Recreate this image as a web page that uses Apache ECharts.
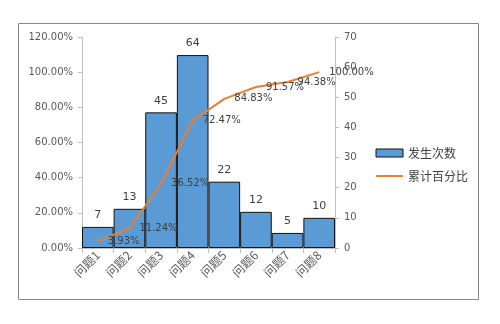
<!DOCTYPE html>
<html><head><meta charset="utf-8">
<script src="https://cdn.jsdelivr.net/npm/echarts@6/dist/echarts.min.js"></script>
<style>html,body{margin:0;padding:0;background:#fff}#c{width:500px;height:324px}</style>
</head><body><div id="c"></div>
<script>
const categories = ['问题1','问题2','问题3','问题4','问题5','问题6','问题7','问题8'];
const counts = [7, 13, 45, 64, 22, 12, 5, 10];
const cumPercent = [0.0393, 0.1124, 0.3652, 0.7247, 0.8483, 0.9157, 0.9438, 1.0];
const seriesNames = ['发生次数', '累计百分比'];

const chart = echarts.init(document.getElementById('c'), null, {renderer: 'canvas'});
const font = 'DejaVu Sans';
chart.setOption({
  animation: false,
  textStyle: {fontFamily: font},
  graphic: [{type: 'rect', shape: {x: 18.5, y: 23.5, width: 460, height: 276}, style: {fill: 'none', stroke: '#898989', lineWidth: 1}, z: -1}],
  grid: {left: 82, right: 165, top: 37, bottom: 76},
  legend: {
    left: 370, top: 142, orient: 'vertical', itemGap: 11, itemWidth: 27, itemHeight: 8,
    textStyle: {fontFamily: 'Noto Sans CJK SC', fontSize: 12, color: '#404040'},
    data: [{name: seriesNames[0], icon: 'rect', itemStyle: {borderColor: '#111', borderWidth: 1}},
           {name: seriesNames[1], itemStyle: {opacity: 0}}]
  },
  xAxis: {
    type: 'category', data: categories,
    axisLine: {lineStyle: {color: '#bfbfbf'}},
    axisTick: {show: true, length: 5, lineStyle: {color: '#bfbfbf'}},
    axisLabel: {rotate: 45, fontSize: 12, color: '#595959', fontFamily: 'Noto Sans CJK SC', margin: 5}
  },
  yAxis: [{
    type: 'value', min: 0, max: 1.2, interval: 0.2, position: 'left',
    splitLine: {show: false},
    axisLine: {show: true, lineStyle: {color: '#bfbfbf'}},
    axisTick: {show: true, length: 4, lineStyle: {color: '#bfbfbf'}},
    axisLabel: {fontSize: 10, color: '#595959', margin: 9, formatter: v => (v * 100).toFixed(2) + '%'}
  }, {
    type: 'value', min: 0, max: 70, interval: 10, position: 'right',
    splitLine: {show: false},
    axisLine: {show: true, lineStyle: {color: '#bfbfbf'}},
    axisTick: {show: true, length: 4, lineStyle: {color: '#bfbfbf'}},
    axisLabel: {fontSize: 10, color: '#595959', margin: 9}
  }],
  series: [{
    name: seriesNames[0], type: 'bar', yAxisIndex: 1, data: counts,
    barCategoryGap: 0,
    itemStyle: {color: '#5B9BD5', borderColor: '#111', borderWidth: 1},
    label: {show: true, position: 'top', distance: 6, fontSize: 11, color: '#404040', fontFamily: font}
  }, {
    name: seriesNames[1], type: 'line', yAxisIndex: 0, data: cumPercent,
    symbol: 'circle', symbolSize: 0, showSymbol: true,
    lineStyle: {color: '#ED7D31', width: 2},
    itemStyle: {color: '#ED7D31'},
    label: {show: true, position: 'right', distance: 10, fontSize: 10, color: '#404040', fontFamily: font,
      formatter: p => (p.value * 100).toFixed(2) + '%'},
    z: 5
  }]
});
</script></body></html>
